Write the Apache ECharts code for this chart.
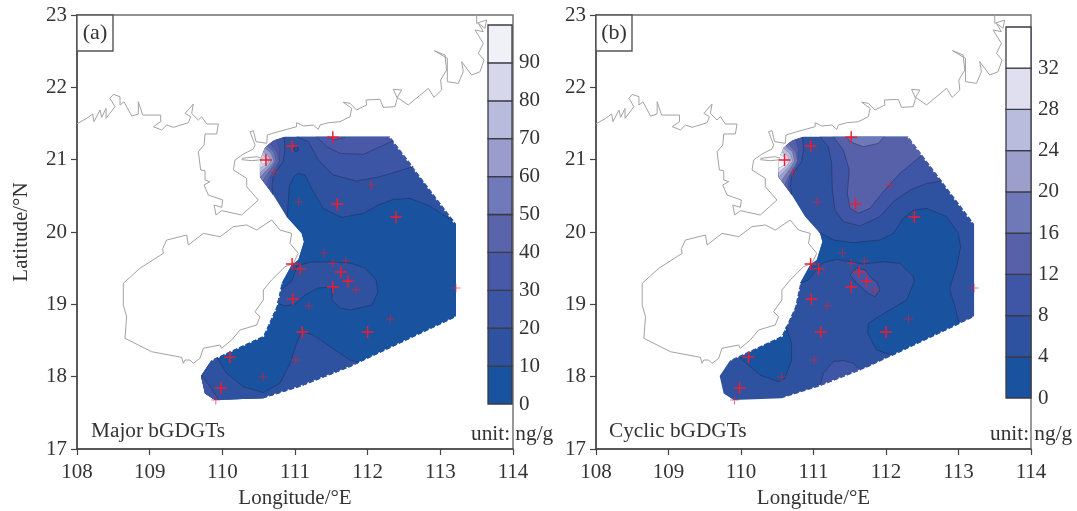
<!DOCTYPE html>
<html><head><meta charset="utf-8">
<style>html,body{margin:0;padding:0;background:#fff}#c{width:1077px;height:511px}</style>
<script src="https://cdn.jsdelivr.net/npm/echarts@6/dist/echarts.min.js"></script>
</head><body><div id="c"></div>
<script>
// ---------- coastlines (lon, lat) ----------
const coastMainland = [[107.996,21.493],[108.133,21.571],[108.216,21.631],[108.234,21.525],[108.317,21.686],[108.34,21.585],[108.40,21.709],[108.40,21.571],[108.523,21.732],[108.454,21.848],[108.50,21.903],[108.592,21.871],[108.592,21.755],[108.647,21.801],[108.753,21.603],[108.844,21.631],[108.844,21.801],[108.904,21.617],[109.152,21.617],[109.152,21.525],[109.051,21.456],[109.165,21.410],[109.234,21.479],[109.326,21.447],[109.532,21.511],[109.565,21.594],[109.487,21.640],[109.601,21.769],[109.578,21.640],[109.670,21.548],[109.716,21.594],[109.785,21.493],[109.945,21.493],[109.922,21.355],[109.762,21.355],[109.748,21.202],[109.670,21.110],[109.702,20.857],[109.762,20.848],[109.762,20.719],[109.831,20.696],[109.748,20.65],[109.808,20.511],[110.005,20.442],[109.991,20.341],[109.886,20.373],[109.913,20.235],[109.991,20.295],[110.266,20.235],[110.496,20.442],[110.335,20.626],[110.335,20.742],[110.152,20.857],[110.175,20.995],[110.289,21.078],[110.427,21.147],[110.450,21.202],[110.381,21.387],[110.427,21.401],[110.464,21.249],[110.610,21.226],[110.620,21.341],[110.771,21.387],[111.023,21.456],[111.023,21.511],[111.115,21.465],[111.252,21.479],[111.32,21.419],[111.344,21.479],[111.458,21.511],[111.619,21.525],[111.757,21.594],[111.780,21.710],[111.665,21.793],[111.757,21.779],[111.848,21.687],[111.986,21.756],[111.977,21.825],[112.169,21.834],[112.215,21.723],[112.376,21.733],[112.408,21.848],[112.353,21.972],[112.468,21.963],[112.408,21.862],[112.559,21.756],[112.835,21.986],[112.913,21.862],[113.018,21.963],[113.004,22.101],[113.087,22.239],[113.064,22.447],[112.917,22.507],[113.096,22.401],[113.096,22.078],[113.248,22.055],[113.316,22.216],[113.293,22.355],[113.431,22.170],[113.546,22.216],[113.601,22.378],[113.523,22.470],[113.591,22.608],[113.477,22.793],[113.591,22.770],[113.523,22.885],[113.614,22.816],[113.637,22.931],[113.500,22.885],[113.500,23.0]];
const coastInlet = [[110.266,21.018],[110.473,21.041],[110.587,21.004],[110.404,20.986],[110.266,21.0]];
const coastHainan = [[109.179,19.774],[109.234,19.889],[109.510,19.958],[109.532,19.820],[109.739,19.981],[109.968,19.935],[110.152,20.074],[110.335,20.097],[110.473,20.027],[110.679,20.166],[110.794,20.027],[110.955,19.981],[110.931,19.843],[111.045,19.705],[110.977,19.566],[110.862,19.520],[110.678,19.336],[110.564,19.198],[110.564,19.060],[110.449,18.898],[110.518,18.829],[110.472,18.714],[110.243,18.645],[110.128,18.507],[109.990,18.392],[109.967,18.438],[109.738,18.392],[109.692,18.253],[109.600,18.184],[109.555,18.230],[109.486,18.230],[109.463,18.184],[109.440,18.267],[109.027,18.345],[108.660,18.530],[108.683,18.829],[108.637,18.991],[108.637,19.290],[108.866,19.498],[109.188,19.705],[109.179,19.774]];

// ---------- stations ----------
const stationsLarge = [[110.60,20.995],[110.96,21.19],[111.52,21.31],[111.58,20.387],[112.39,20.207],[110.96,19.557],[111.07,19.49],[111.63,19.447],[111.73,19.32],[111.52,19.24],[110.97,19.074],[111.10,18.617],[109.98,17.843],[110.105,18.27],[112.0,18.617]];
const stationsSmall = [[110.71,20.83],[111.05,20.415],[112.05,20.65],[111.40,19.71],[111.52,19.57],[111.70,19.60],[111.84,19.20],[113.215,19.226],[111.19,18.977],[111.01,18.23],[110.56,17.995],[109.91,17.677],[112.31,18.797]];

// ---------- gridded field outline ----------
const fieldOutline = [[110.862,21.318],[112.307,21.318],[113.178,20.165],[113.215,20.11],[113.215,18.825],[111.757,18.133],[111.068,17.862],[110.564,17.70],[109.899,17.677],[109.761,17.769],[109.706,18.009],[109.853,18.230],[110.564,18.562],[110.747,18.968],[110.816,19.290],[110.954,19.544],[111.045,19.613],[111.123,19.866],[111.091,19.981],[110.885,20.212],[110.701,20.511],[110.518,20.765],[110.518,20.949],[110.587,21.156],[110.701,21.262]];
const notchNorthEast = [[112.307,21.318],[113.21,20.11]];
const notchSouth = [[113.215,18.825],[111.757,18.133],[111.068,17.862],[110.564,17.70]];
const notchWest = [[109.853,18.230],[110.564,18.562],[110.747,18.968],[110.816,19.290]];

// ---------- shared hot-spot contours near the Leizhou coast ----------
const ring1 = [[110.849,21.313],[110.862,21.134],[110.835,20.968],[110.752,20.857],[110.697,20.760],[110.683,20.636],[110.697,20.511]];
const ring1Edge = [[110.628,20.608],[110.573,20.684],[110.518,20.760],[110.518,20.954],[110.546,21.064],[110.587,21.161],[110.642,21.217],[110.697,21.258],[110.780,21.293]];
const ring2 = [[110.752,21.286],[110.793,21.134],[110.780,20.981],[110.725,20.885],[110.670,20.774],[110.642,20.594]];
const ring2Edge = [[110.628,20.608],[110.573,20.684],[110.518,20.760],[110.518,20.954],[110.546,21.064],[110.587,21.161],[110.642,21.217],[110.697,21.258]];
const ring3 = [[110.656,21.217],[110.752,21.106],[110.780,20.981],[110.725,20.871],[110.642,20.746],[110.601,20.650]];
const ring3Edge = [[110.573,20.684],[110.518,20.760],[110.518,20.954],[110.546,21.064],[110.587,21.161]];
const ring4 = [[110.615,21.189],[110.711,21.106],[110.738,20.981],[110.683,20.885],[110.601,20.774],[110.559,20.705]];
const ring4Edge = [[110.518,20.760],[110.518,20.954],[110.546,21.064],[110.587,21.161]];
const ring5 = [[110.587,21.161],[110.670,21.092],[110.711,20.981],[110.656,20.899],[110.573,20.816],[110.525,20.76]];
const ring5Edge = [[110.518,20.954],[110.546,21.064]];
const ring6 = [[110.559,21.106],[110.628,21.064],[110.670,20.981],[110.628,20.912],[110.559,20.857],[110.518,20.816]];
const ring6Edge = [[110.518,20.954],[110.546,21.064]];
const ring7 = [[110.546,21.064],[110.601,21.037],[110.642,20.981],[110.601,20.926],[110.546,20.899],[110.518,20.885]];
const ring7Edge = [[110.518,20.954]];
const ring8 = [[110.546,21.023],[110.587,21.023],[110.615,20.981],[110.587,20.947],[110.546,20.940],[110.532,20.981],[110.546,21.023]];

// ---------- panel (a) contours ----------
const aC10North = [[110.894,20.202],[110.908,20.442],[110.922,20.626],[110.977,20.755],[111.045,20.811],[111.137,20.788],[111.252,20.557],[111.389,20.327],[111.642,20.202],[111.940,20.258],[112.146,20.373],[112.353,20.451],[112.582,20.465],[112.857,20.359],[113.041,20.235],[113.178,20.165]];
const aC10NorthEdge = [[113.215,20.11],[113.215,18.825],[111.757,18.133],[111.068,17.862],[110.564,17.70],[109.899,17.677],[109.761,17.769],[109.706,18.009],[109.853,18.230],[110.564,18.562],[110.747,18.968],[110.816,19.290],[110.954,19.544],[111.045,19.613],[111.123,19.866],[111.091,19.981]];
const aC10Lobe = [[110.807,19.198],[110.959,19.322],[111.027,19.530],[111.206,19.585],[111.482,19.585],[111.757,19.571],[111.963,19.502],[112.115,19.336],[112.142,19.170],[112.060,18.990],[111.757,18.921],[111.619,18.949],[111.509,19.060],[111.509,19.239],[111.316,19.226],[111.137,19.129],[111.0,19.004],[110.862,18.977],[110.752,19.018]];
const aC10South = [[109.93,18.265],[110.059,18.046],[110.288,17.862],[110.564,17.779],[110.793,17.908],[110.931,18.184],[111.022,18.461],[111.091,18.622],[111.252,18.576],[111.481,18.415],[111.756,18.230],[111.894,18.198]];
const aC10SouthEdge = [[111.757,18.133],[111.068,17.862],[110.564,17.70],[109.899,17.677],[109.761,17.769],[109.706,18.009],[109.853,18.230]];
const aC20West = [[109.715,18.023],[109.83,17.862],[109.944,17.691]];
const aC20WestEdge = [[109.899,17.677],[109.761,17.769],[109.706,18.009]];
const aC20North = [[111.022,21.318],[111.183,21.248],[111.321,20.995],[111.527,20.788],[111.848,20.705],[112.169,20.765],[112.628,20.903]];
const aC20NorthEdge = [[112.307,21.318]];
const aC30North = [[111.298,21.318],[111.435,21.179],[111.619,21.087],[111.940,21.073],[112.353,21.262]];
const aC30NorthEdge = [[112.307,21.318]];
const aC40North = [[111.458,21.318],[111.527,21.272],[111.688,21.308]];
const aLow = [[110.985,21.147],[110.995,21.175],[111.014,21.187],[111.035,21.175],[111.045,21.147],[111.035,21.12],[111.014,21.107],[110.995,21.12],[110.985,21.147]];

// ---------- panel (b) contours ----------
const bC4North = [[111.067,20.004],[111.273,19.889],[111.549,19.852],[111.917,19.889],[112.101,19.981],[112.239,20.189],[112.377,20.304],[112.561,20.327],[112.837,20.212],[112.998,19.981],[113.030,19.797],[112.975,19.520],[112.883,19.244],[112.882,19.199],[112.951,18.968],[113.011,18.728]];
const bC4NorthEdge = [[112.09,18.29]];
const bC4Centre = [[112.09,18.29],[111.871,18.369],[111.747,18.599],[111.756,18.738],[112.009,18.899],[112.285,19.060],[112.390,19.314],[112.377,19.382],[112.193,19.566],[111.963,19.590],[111.687,19.557],[111.319,19.622],[111.113,19.567],[110.929,19.336],[110.814,19.290]];
const bC4CentreEdge = [[110.954,19.544],[111.045,19.613],[111.123,19.866],[111.091,19.981]];
const bC4South = [[110.620,18.692],[110.698,18.461],[110.698,18.231],[110.606,17.977],[110.514,17.931],[110.262,18.023],[110.009,18.240],[109.995,18.268]];
const bC4SouthEdge = [[110.564,18.562]];
const bC8North = [[111.090,21.318],[111.204,21.179],[111.250,20.949],[111.260,20.580],[111.296,20.304],[111.411,20.143],[111.641,20.083],[111.917,20.212],[112.101,20.419],[112.331,20.580],[112.561,20.672],[112.77,20.705]];
const bC8NorthEdge = [[112.307,21.318]];
const bC12North = [[111.273,21.318],[111.411,21.133],[111.494,20.857],[111.467,20.534],[111.503,20.327],[111.618,20.258],[111.779,20.327],[111.963,20.557],[112.193,20.811],[112.499,21.064]];
const bC12NorthEdge = [[112.307,21.318]];
const bC16North = [[111.457,21.318],[111.503,21.248],[111.687,21.179],[111.894,21.225],[111.972,21.318]];
const bC8South = [[111.089,17.87],[111.135,18.046],[111.273,18.208],[111.411,18.222],[111.549,18.185],[111.650,18.09]];
const bC8Island = [[111.503,19.405],[111.595,19.507],[111.710,19.474],[111.825,19.336],[111.871,19.314],[111.917,19.199],[111.848,19.106],[111.756,19.152],[111.595,19.291],[111.503,19.405]];

// ---------- colour scales ----------
const levelsA = [0,10,20,30,40,50,60,70,80,90,100];
const levelsB = [0,4,8,12,16,20,24,28,32,36];
const coloursA = ['#19529f','#2e52a0','#3c55a5','#4959a7','#5a64ab','#7079b9','#9a9dcb','#b9bbdc','#d7d7eb','#f0f0f7'];
const coloursB = ['#19529f','#2e52a0','#3f55a6','#5661a9','#6f79b8','#9c9ecc','#babcdd','#dfdfef','#ffffff'];

const SERIF = '"Liberation Serif","Times New Roman",serif';
const TXT = '#333';
const CONTOUR = 'rgba(30,40,85,0.6)';
const CONTOUR_SOFT = 'rgba(30,40,85,0.32)';
const NOTCH = 'notch';

const L = (color, ...parts) => ({color, parts});
const soft = (l) => Object.assign(l,{soft:true});
const ringSet = (c) => [
  L(c[0],ring1,ring1Edge),soft(L(c[1],ring2,ring2Edge)),soft(L(c[2],ring3,ring3Edge)),soft(L(c[3],ring4,ring4Edge)),
  soft(L(c[4],ring5,ring5Edge)),soft(L(c[5],ring6,ring6Edge)),soft(L(c[6],ring7,ring7Edge))
];
const notches = [L(NOTCH,notchNorthEast),L(NOTCH,notchSouth),L(NOTCH,notchWest)];

const layersA = [
  L(coloursA[1],[],fieldOutline),
  L(coloursA[0],aC10North,aC10NorthEdge),
  L(coloursA[1],aC10Lobe),
  L(coloursA[1],aC10South,aC10SouthEdge),
  L(coloursA[2],aC20West,aC20WestEdge),
  L(coloursA[2],aC20North,aC20NorthEdge),
  L(coloursA[3],aC30North,aC30NorthEdge),
  L(coloursA[4],aC40North),
  L(coloursA[0],aLow),
  ...ringSet(coloursA.slice(2)),
  soft(L(coloursA[9],ring8)),
  ...notches
];
const layersB = [
  L(coloursB[1],[],fieldOutline),
  L(coloursB[0],bC4North,bC4NorthEdge,bC4Centre,bC4CentreEdge),
  L(coloursB[0],bC4South,bC4SouthEdge),
  L(coloursB[2],bC8North,bC8NorthEdge),
  L(coloursB[3],bC12North,bC12NorthEdge),
  L(coloursB[4],bC16North),
  L(coloursB[2],bC8South),
  L(coloursB[2],bC8Island),
  ...ringSet(coloursB.slice(2)),
  ...notches
];

function renderLayers(layers){
  return (params, api) => {
    const l = layers[params.dataIndex];
    const px = (a) => a.map(p => api.coord(p));
    const children = [];
    if (l.color === NOTCH) {
      children.push({type:'polyline',shape:{points:px(l.parts[0])},style:{fill:null,stroke:'#fff',lineWidth:1.8,lineDash:[2,5]}});
      return {type:'group',children};
    }
    children.push({type:'polygon',shape:{points:px(l.parts.flat())},style:{fill:l.color,stroke:null}});
    l.parts.forEach((part,i) => {
      if (i % 2 === 0 && part.length > 1) {
        children.push({type:'polyline',shape:{points:px(part)},style:{fill:null,stroke:l.soft?CONTOUR_SOFT:CONTOUR,lineWidth:l.soft?0.6:0.8}});
      }
    });
    return {type:'group',children};
  };
}
function renderBar(levels, colours){
  return (params, api) => {
    const i = params.dataIndex;
    const a = api.coord([0,levels[i]]), b = api.coord([1,levels[i+1]]);
    return {type:'rect',shape:{x:a[0],y:b[1],width:b[0]-a[0],height:a[1]-b[1]},
      style:{fill:colours[i],stroke:'#3a3a44',lineWidth:1.3}};
  };
}

const plus = 'path://M4.4 0h1.2v4.4h4.4v1.2h-4.4v4.4h-1.2v-4.4h-4.4v-1.2h4.4z';
const label = {fontFamily:SERIF,fontSize:21,color:TXT};
const mapX = (gi) => ({gridIndex:gi,type:'value',min:108,max:114,interval:1,
  name:'Longitude/°E',nameLocation:'middle',nameGap:39,nameTextStyle:{fontFamily:SERIF,fontSize:21,color:TXT},
  axisLine:{show:true,lineStyle:{color:'#444',width:1.5}},axisTick:{show:true,length:6,lineStyle:{color:'#444',width:1.2}},
  axisLabel:Object.assign({margin:13},label),splitLine:{show:false}});
const mapY = (gi,name) => ({gridIndex:gi,type:'value',min:17,max:23,interval:1,
  name:name,nameLocation:'middle',nameGap:45,nameTextStyle:{fontFamily:SERIF,fontSize:21,color:TXT},
  axisLine:{show:true,lineStyle:{color:'#444',width:1.5}},axisTick:{show:true,length:6,lineStyle:{color:'#444',width:1.2}},
  axisLabel:Object.assign({margin:10,padding:[5,0,0,0]},label),splitLine:{show:false}});
const barX = (gi) => ({gridIndex:gi,type:'value',min:0,max:1,show:false});
const barY = (gi,levels,step,hide,pad) => ({gridIndex:gi,type:'value',position:'right',min:0,max:levels[levels.length-1],interval:step,
  axisLine:{show:false},axisTick:{show:false},splitLine:{show:false},
  axisLabel:Object.assign({margin:7,padding:[pad,0,0,0],formatter:(v)=>v===hide?'':String(v)},label)});

function panelSeries(mapIdx, barIdx, layers, levels, colours){
  const common = {xAxisIndex:mapIdx,yAxisIndex:mapIdx};
  const coast = (d) => Object.assign({type:'line',data:d,showSymbol:false,symbol:'none',silent:true,z:1,
    lineStyle:{color:'#a2a2a2',width:1}},common);
  const st = (d,size,op) => Object.assign({type:'scatter',data:d,symbol:plus,symbolSize:size,z:5,silent:true,
    itemStyle:{color:'#ee1c30',opacity:op}},common);
  return [
    coast(coastMainland),coast(coastInlet),coast(coastHainan),
    Object.assign({type:'custom',coordinateSystem:'cartesian2d',z:2,silent:true,clip:false,
      renderItem:renderLayers(layers),data:layers.map((_,i)=>[i])},common),
    st(stationsLarge,12,1),st(stationsSmall,9,0.6),
    {type:'custom',coordinateSystem:'cartesian2d',xAxisIndex:barIdx,yAxisIndex:barIdx,z:3,silent:true,clip:false,
      renderItem:renderBar(levels,colours),data:colours.map((_,i)=>[i])}
  ];
}

const boxText = (x,t) => [
  {type:'rect',z:10,shape:{x:x,y:15,width:36,height:36},style:{fill:'#fff',stroke:'#555',lineWidth:1.4}},
  {type:'text',z:11,x:x+18,y:33,style:{text:t,fontFamily:SERIF,fontSize:22,fill:TXT,align:'center',verticalAlign:'middle'}}
];
const note = (x,y,t) => ({type:'text',z:11,x:x,y:y,style:{text:t,fontFamily:SERIF,fontSize:21.3,fill:TXT,align:'left',verticalAlign:'middle'}});

const chart = echarts.init(document.getElementById('c'),null,{renderer:'canvas'});
chart.setOption({
  animation:false,
  backgroundColor:'#fff',
  grid:[
    {left:77,top:15,width:436,height:434,outerBoundsMode:'none',show:true,borderColor:'#6e6e6e',borderWidth:1.4,backgroundColor:'#fff'},
    {left:596,top:15,width:435,height:434,outerBoundsMode:'none',show:true,borderColor:'#6e6e6e',borderWidth:1.4,backgroundColor:'#fff'},
    {left:488,top:25,width:24,height:379,outerBoundsMode:'none'},
    {left:1006,top:27,width:25,height:371,outerBoundsMode:'none'}
  ],
  xAxis:[mapX(0),mapX(1),barX(2),barX(3)],
  yAxis:[mapY(0,'Latitude/°N'),mapY(1,''),barY(2,levelsA,10,100,5),barY(3,levelsB,4,36,0)],
  series:[...panelSeries(0,2,layersA,levelsA,coloursA),...panelSeries(1,3,layersB,levelsB,coloursB)],
  graphic:[...boxText(77,'(a)'),...boxText(596,'(b)'),
    note(91,431,'Major bGDGTs'),note(609,431,'Cyclic bGDGTs'),
    note(471,434,'unit: ng/g'),note(990,434,'unit: ng/g')]
});
</script></body></html>
